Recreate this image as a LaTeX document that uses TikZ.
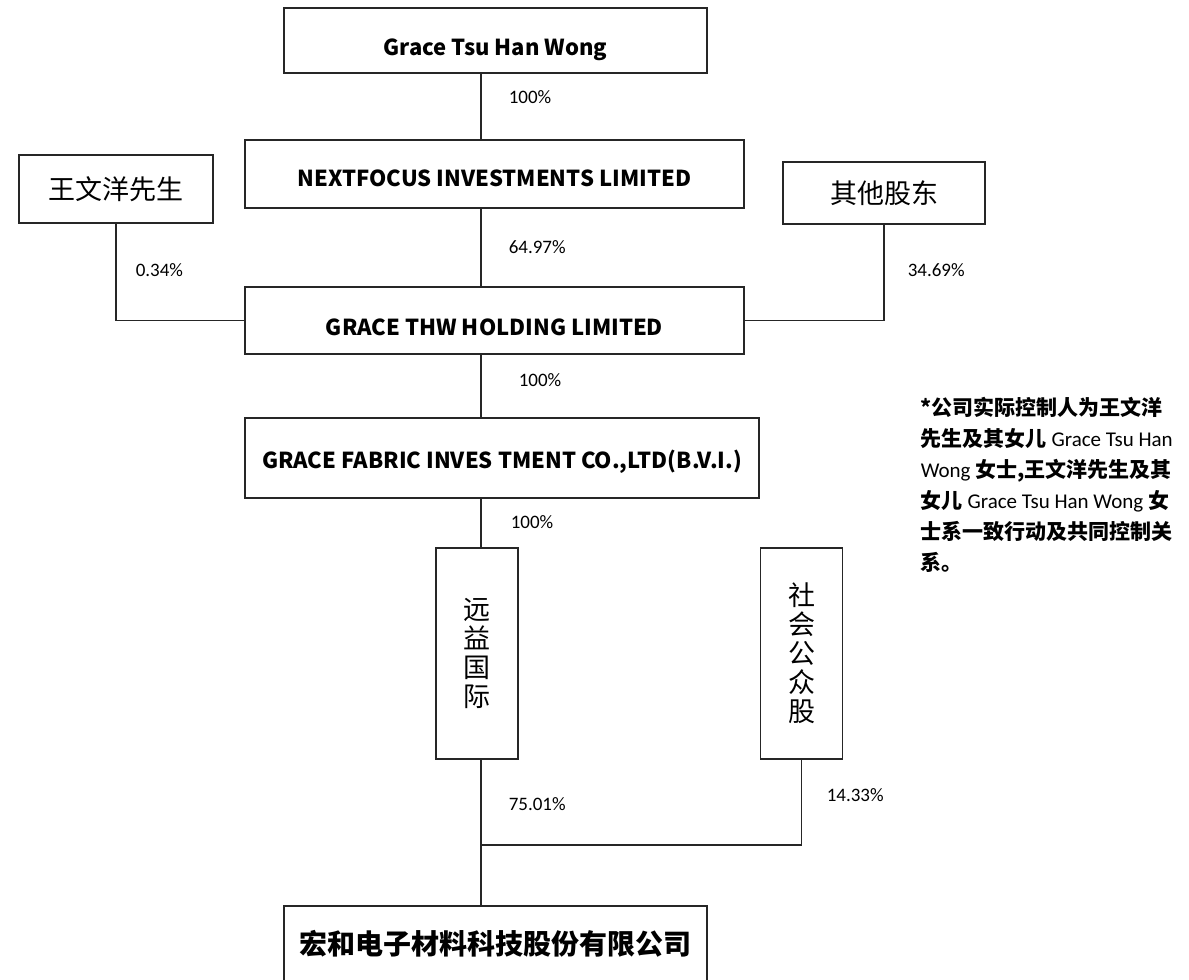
\documentclass[tikz,border=0pt]{standalone}
\usepackage{fontspec}
\setmainfont{Carlito}
\newfontfamily\cjk{Noto Sans CJK SC}
\usetikzlibrary{positioning}

\begin{document}
\begin{tikzpicture}[x=1pt, y=-1pt, line width=1.6pt, draw=black!85,
    box/.style={draw, inner sep=0pt, text height=26pt, font=\cjk\bfseries\fontsize{22}{26}\selectfont},
    zhbox/.style={draw, inner sep=0pt, font=\cjk\fontsize{27}{29}\selectfont},
    tallbox/.style={zhbox, align=center, minimum width=82, minimum height=211},
    pct/.style={anchor=west, inner sep=0pt, font=\fontsize{19}{21}\selectfont}]
    \useasboundingbox (0,0) rectangle (1189,980);

    % owners
    \node[box, text height=36pt, minimum width=423, minimum height=65] (grace) at (495.5,40.5) {Grace Tsu Han Wong};
    \node[box, minimum width=499, minimum height=68] (nextfocus) at (494.5,174) {NEXTFOCUS INVESTMENTS LIMITED};
    \node[zhbox, minimum width=194, minimum height=68] (wang) at (116,189) {王文洋先生};
    \node[zhbox, minimum width=202, minimum height=62] (qita) at (884,193) {其他股东};
    \node[box, text height=30pt, minimum width=499, minimum height=67] (thw) at (494.5,320.5) {GRACE THW HOLDING LIMITED};
    \node[box, minimum width=514, minimum height=80] (fabric) at (502,458) {GRACE FABRIC INVES TMENT CO.,LTD(B.V.I.)};

    % shareholders of the company
    \node[tallbox] (yuanyi) at (477,653.5) {远\\益\\国\\际};
    \node[tallbox] (shehui) at (801.5,653.5) {社\\会\\公\\众\\股};
    \node[zhbox, font=\cjk\bfseries\fontsize{28}{30}\selectfont, minimum width=423, minimum height=76] (hongh) at (495.5,944) {宏和电子材料科技股份有限公司};

    \coordinate (spine) at (481,0);
    \coordinate (merge) at (481,845);

    \draw (grace.south -| spine) -- (nextfocus.north -| spine);
    \draw (nextfocus.south -| spine) -- (thw.north -| spine);
    \draw (wang.south) |- (thw.west);
    \draw (qita.south) |- (thw.east);
    \draw (thw.south -| spine) -- (fabric.north -| spine);
    \draw (fabric.south -| spine) -- (yuanyi.north -| spine);
    \draw (yuanyi.south -| spine) -- (hongh.north -| spine);
    \draw (shehui.south) |- (merge);

    \node[pct] (p1) at (508,97) {100\%};
    \node[pct] (p2) at (508,247) {64.97\%};
    \node[pct] (p3) at (135,270) {0.34\%};
    \node[pct] (p4) at (907,270) {34.69\%};
    \node[pct] (p5) at (518,380) {100\%};
    \node[pct] (p6) at (510,522) {100\%};
    \node[pct] (p7) at (508,804) {75.01\%};
    \node[pct] (p8) at (826,795) {14.33\%};

    % note
    \node[anchor=north west, inner sep=0pt, align=left, font=\cjk\bfseries\fontsize{21}{31}\selectfont] (note) at (920,396)
      {*公司实际控制人为王文洋\\
       先生及其女儿 {\rmfamily\mdseries Grace Tsu Han}\\
       {\rmfamily\mdseries Wong} 女士,王文洋先生及其\\
       女儿 {\rmfamily\mdseries Grace Tsu Han Wong} 女\\
       士系一致行动及共同控制关\\
       系。};
\end{tikzpicture}
\end{document}
